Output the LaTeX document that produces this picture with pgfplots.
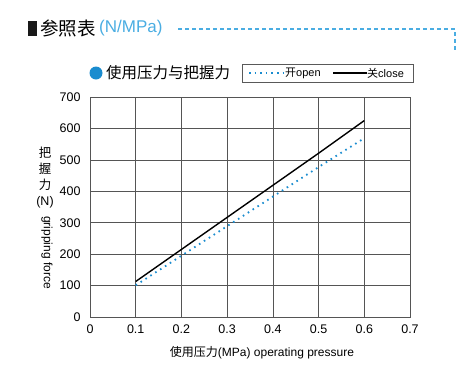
\documentclass[border=0pt]{standalone}
\usepackage{pgfplots}
\pgfplotsset{compat=1.18}
\usepackage{fontspec}
\setmainfont{Liberation Sans}
\newfontfamily\cjk{Noto Sans CJK SC}
\definecolor{tblue}{HTML}{4AADE2}
\definecolor{lblue}{HTML}{1A8CCF}
\definecolor{gridc}{HTML}{555555}
\begin{document}
\begin{tikzpicture}[x=1pt,y=1pt]
\path (0,0) rectangle (476,-370);
% header
\fill[black!90] (28,-21) rectangle (37,-36);
\node[anchor=west,inner sep=0pt,font=\cjk\fontsize{18.5}{18.5}\selectfont] at (40,-28) {参照表};
\node[anchor=west,inner sep=0pt,font=\fontsize{17}{17}\selectfont,text=tblue] at (99,-28.5) {(N/MPa)};
\draw[tblue,line width=1.2pt,dash pattern=on 4pt off 3pt] (178,-29) -- (455,-29) -- (455,-50);
% subtitle
\fill[lblue] (96,-73) circle (6.5);
\node[anchor=west,inner sep=0pt,font=\cjk\fontsize{15.5}{15.5}\selectfont] at (106,-73) {使用压力与把握力};
% legend
\draw[gray!70!black,line width=0.6pt] (242,-64) rectangle (413,-82);
\draw[lblue,line width=1.6pt,dash pattern=on 1.6pt off 4pt] (249,-73) -- (283,-73);
\node[anchor=west,inner sep=0pt,font=\fontsize{11}{11}\selectfont] at (285,-73) {{\cjk 开}open};
\draw[black,line width=1.3pt] (333,-73) -- (367,-73);
\node[anchor=west,inner sep=0pt,font=\fontsize{11}{11}\selectfont] at (367,-73) {{\cjk 关}close};
% y label
\node[anchor=north,inner sep=0pt,align=center,font=\fontsize{12.5}{16}\selectfont] at (45,-147) {{\cjk 把}\\{\cjk 握}\\{\cjk 力}\\(N)};
\node[anchor=west,rotate=-90,inner sep=0pt,font=\fontsize{12}{12}\selectfont] at (47,-216) {gripping force};
% x label
\node[inner sep=0pt,font=\fontsize{12}{12}\selectfont] at (262,-353) {{\cjk 使用压力}(MPa) operating pressure};
\begin{axis}[
  at={(90pt,-97pt)}, anchor=north west,
  scale only axis, width=320pt, height=220pt,
  xmin=0, xmax=0.7, ymin=0, ymax=700,
  xtick={0,0.1,...,0.7}, ytick={0,100,...,700},
  xticklabels={0,0.1,0.2,0.3,0.4,0.5,0.6,0.7},
  grid=major, major grid style={gridc,line width=0.7pt},
  axis line style={gridc,line width=0.8pt},
  major tick length=0pt,
  tick label style={font=\fontsize{12.5}{12.5}\selectfont},
  /pgf/number format/assume math mode=true,
  xticklabel style={yshift=-4pt},
  yticklabel style={xshift=-6pt},
]
\addplot[lblue,line width=1.8pt,dash pattern=on 1.6pt off 4.2pt] coordinates {
(0.1,101) (0.2,195) (0.3,289) (0.4,383) (0.5,477) (0.6,569)};
\addplot[black,line width=1.4pt] coordinates {
(0.1,113) (0.2,215) (0.3,317) (0.4,419) (0.5,521) (0.6,625)};
\end{axis}
\end{tikzpicture}
\end{document}
